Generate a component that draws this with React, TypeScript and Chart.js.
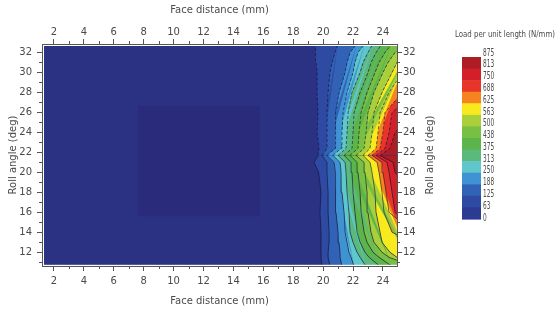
import { useEffect, useRef } from 'react';
import { Chart, registerables } from 'chart.js';

Chart.register(...registerables);

// ---- axis ranges ----
const X_MIN = 1.2;
const X_MAX = 24.94;
const Y_MIN = 10.63;
const Y_MAX = 32.85;
const BEYOND_EDGE = 26; // contour positions beyond the right edge of the plot

// ---- sample roll angles (deg) at which contour positions are read ----
const rollAngles = [10.6, 11.5, 12, 13, 14, 16, 18, 20, 21, 21.7, 22.4, 24, 26, 28, 30, 31, 32, 32.9];

// ---- contour levels (N/mm) and face-distance position of each contour (mm) ----
const contourLevels = [63, 125, 188, 250, 313, 375, 438, 500, 563, 625, 688, 750, 813];
const contour063 = [19.93, 19.86, 19.86, 19.86, 19.86, 19.79, 19.86, 19.7, 19.4, 19.66, 19.73, 19.6, 19.66, 19.6, 19.6, 19.52, 19.46, 19.52];
const contour125 = [20.46, 20.33, 20.33, 20.4, 20.4, 20.33, 20.33, 20.26, 20.26, 19.93, 20.26, 20.26, 20.26, 20.33, 20.46, 20.6, 20.8, 21.0];
const contour188 = [21.26, 21.13, 21.13, 21.06, 21.0, 20.86, 20.86, 20.8, 20.73, 20.26, 20.8, 20.86, 20.8, 21.07, 21.47, 21.6, 21.8, 22.27];
const contour250 = [22.07, 21.87, 21.73, 21.6, 21.47, 21.4, 21.26, 21.2, 21.13, 20.66, 21.2, 21.26, 21.33, 21.6, 22.0, 22.13, 22.33, 22.8];
const contour313 = [22.87, 22.47, 22.27, 22.0, 21.8, 21.73, 21.6, 21.53, 21.47, 21.0, 21.53, 21.6, 21.67, 21.93, 22.47, 22.67, 23.0, 23.34];
const contour375 = [23.81, 23.07, 22.8, 22.47, 22.27, 22.13, 22.0, 21.93, 21.87, 21.4, 21.93, 22.0, 22.07, 22.47, 23.0, 23.2, 23.54, 23.94];
const contour438 = [24.61, 23.74, 23.34, 22.94, 22.74, 22.54, 22.47, 22.33, 22.27, 21.8, 22.33, 22.4, 22.54, 22.94, 23.47, 23.74, 24.14, 24.61];
const contour500 = [26, 24.41, 23.94, 23.4, 23.2, 23.0, 22.94, 22.8, 22.74, 22.2, 22.74, 22.87, 23.0, 23.4, 24.0, 24.34, 24.81, 26];
const contour563 = [26, 24.94, 24.47, 23.94, 23.81, 23.54, 23.47, 23.27, 23.14, 22.67, 23.14, 23.27, 23.4, 23.94, 24.61, 24.94, 25.3, 26];
const contour625 = [26, 26, 26, 26, 24.61, 24.07, 23.94, 23.74, 23.61, 23.0, 23.54, 23.67, 23.81, 24.41, 25.3, 26, 26, 26];
const contour688 = [26, 26, 26, 26, 26, 24.41, 24.21, 24.0, 23.94, 23.27, 23.81, 24.0, 24.14, 25.3, 26, 26, 26, 26];
const contour750 = [26, 26, 26, 26, 26, 24.81, 24.61, 24.41, 24.27, 23.54, 24.14, 24.41, 24.61, 26, 26, 26, 26, 26];
const contour813 = [26, 26, 26, 26, 26, 26, 26, 24.81, 24.68, 23.81, 24.47, 24.81, 26, 26, 26, 26, 26, 26];
const contourLines = [contour063, contour125, contour188, contour250, contour313, contour375, contour438, contour500, contour563, contour625, contour688, contour750, contour813];

// band colour above each contour level
const bandColors = ['#2e4aa3', '#3262b5', '#3f93d3', '#5fc7cb', '#5cb97c', '#5bb54a', '#78c043', '#a9cf3a', '#f8ea1c', '#f5831f', '#e8352a', '#d21f2a', '#ae1c24'];
const plotBackground = '#2b3183';

// faint darker patch in the low-load region
const patchFaceDistance = [7.62, 15.78];
const patchRollAngle = [15.58, 26.7];

// ---- colour bar ----
const legendTitle = 'Load per unit length (N/mm)';
const legendLabels = ['875', '813', '750', '688', '625', '563', '500', '438', '375', '313', '250', '188', '125', '63', '0'];
const legendColors = ['#ae1c24', '#d21f2a', '#e8352a', '#f5831f', '#f8ea1c', '#a9cf3a', '#78c043', '#5bb54a', '#5cb97c', '#5fc7cb', '#3f93d3', '#3262b5', '#2e4aa3', '#2b3a92'];

const xTitle = 'Face distance (mm)';
const yTitle = 'Roll angle (deg)';

const FONT = 'DejaVu Sans';
const textColor = '#4a4a4a';
const axisColor = '#555555';

export default function App() {
  const ref = useRef<HTMLCanvasElement>(null);

  useEffect(() => {
    const canvas = ref.current;
    if (!canvas) return;

    const datasets: any[] = contourLines.map((xs, i) => ({
      label: String(contourLevels[i]),
      data: rollAngles.map((y, j) => ({ x: xs[j], y })),
      backgroundColor: bandColors[i],
      borderColor: 'rgba(18,18,45,0.75)',
      borderWidth: 0.8,
      fill: i < contourLines.length - 1 ? '+1' : { value: BEYOND_EDGE },
      pointRadius: 0,
      tension: 0,
      segment: {
        borderDash: (c: any) => (c.p0.parsed.y >= 21.7 ? [3, 2] : undefined),
      },
    }));
    datasets.push({
      label: 'patchL',
      data: patchRollAngle.map((y) => ({ x: patchFaceDistance[0], y })),
      backgroundColor: '#2a2c7b',
      borderWidth: 0,
      fill: '+1',
      pointRadius: 0,
    });
    datasets.push({
      label: 'patchR',
      data: patchRollAngle.map((y) => ({ x: patchFaceDistance[1], y })),
      borderWidth: 0,
      fill: false,
      pointRadius: 0,
    });

    const bgPlugin = {
      id: 'plotBg',
      beforeDraw(chart: any) {
        const { ctx, chartArea: a } = chart;
        ctx.save();
        ctx.fillStyle = plotBackground;
        ctx.fillRect(a.left, a.top, a.right - a.left, a.bottom - a.top);
        ctx.restore();
      },
      afterDatasetsDraw(chart: any) {
        const { ctx, chartArea: a } = chart;
        ctx.save();
        ctx.fillStyle = '#ffffff';
        ctx.fillRect(a.left, a.top, 2, a.bottom - a.top);
        ctx.fillRect(a.left, a.top, a.right - a.left, 2);
        ctx.fillRect(a.left, a.bottom - 1.2, a.right - a.left, 1.2);
        ctx.restore();
      },
    };

    const minorTicks = {
      id: 'minorTicks',
      afterDraw(chart: any) {
        const { ctx, chartArea: a, scales } = chart;
        ctx.save();
        ctx.strokeStyle = axisColor;
        ctx.lineWidth = 1;
        ctx.beginPath();
        for (let v = Math.ceil(X_MIN); v <= X_MAX; v++) {
          if (v % 2 === 0) continue;
          const px = Math.round(scales.x.getPixelForValue(v)) + 0.5;
          ctx.moveTo(px, a.bottom);
          ctx.lineTo(px, a.bottom + 3);
          ctx.moveTo(px, a.top);
          ctx.lineTo(px, a.top - 3);
        }
        for (let v = Math.ceil(Y_MIN); v <= Y_MAX; v++) {
          if (v % 2 === 0) continue;
          const py = Math.round(scales.y.getPixelForValue(v)) + 0.5;
          ctx.moveTo(a.left, py);
          ctx.lineTo(a.left - 3, py);
          ctx.moveTo(a.right, py);
          ctx.lineTo(a.right + 3, py);
        }
        ctx.stroke();
        ctx.restore();
      },
    };

    const extras = {
      id: 'extras',
      afterDraw(chart: any) {
        const { ctx, chartArea: a } = chart;
        ctx.save();
        // right axis title, reading bottom-to-top
        ctx.fillStyle = textColor;
        ctx.font = `10px "${FONT}"`;
        ctx.textAlign = 'center';
        ctx.textBaseline = 'middle';
        ctx.translate(430, (a.top + a.bottom) / 2);
        ctx.rotate(-Math.PI / 2);
        ctx.fillText(yTitle, 0, 0);
        ctx.restore();

        // colour bar
        ctx.save();
        const bx = 462, by = 57, bw = 19, bh = 162;
        const step = bh / legendColors.length;
        legendColors.forEach((c, i) => {
          ctx.fillStyle = c;
          ctx.fillRect(bx, by + i * step, bw, step + 0.6);
        });
        ctx.fillStyle = textColor;
        ctx.font = `10px "${FONT}"`;
        ctx.textAlign = 'left';
        ctx.textBaseline = 'middle';
        const lstep = (218 - 53) / (legendLabels.length - 1);
        legendLabels.forEach((t, i) => {
          ctx.save();
          ctx.translate(483, 53 + i * lstep);
          ctx.scale(0.58, 1);
          ctx.fillText(t, 0, 0);
          ctx.restore();
        });
        // legend title
        ctx.font = `8px "${FONT}"`;
        const w = ctx.measureText(legendTitle).width;
        ctx.save();
        ctx.translate(455, 35);
        ctx.scale(100 / w, 1);
        ctx.fillText(legendTitle, 0, 0);
        ctx.restore();
        ctx.restore();
      },
    };

    const tickFont = { family: FONT, size: 10 };
    const gridCfg = { display: true, drawOnChartArea: false, drawTicks: true, tickLength: 5, color: axisColor, tickColor: axisColor, lineWidth: 1 };
    const borderCfg = { display: true, color: axisColor, width: 1, z: 1 };

    const chart = new Chart(canvas, {
      type: 'line',
      data: { datasets },
      options: {
        responsive: false,
        animation: false,
        indexAxis: 'y',
        layout: { padding: { left: 0, right: 120, top: 0, bottom: 0 } },
        plugins: {
          legend: { display: false },
          tooltip: { enabled: false },
          filler: { drawTime: 'beforeDatasetsDraw', propagate: false },
        },
        scales: {
          x: {
            type: 'linear', position: 'bottom', min: X_MIN, max: X_MAX,
            afterFit: (s: any) => { s.height = 46; },
            ticks: { stepSize: 2, includeBounds: false, autoSkip: false, maxRotation: 0, minRotation: 0, padding: 4, color: textColor, font: tickFont },
            grid: gridCfg, border: borderCfg,
            title: { display: true, text: xTitle, color: textColor, font: tickFont, padding: { top: 0, bottom: 5 } },
          },
          xTop: {
            type: 'linear', axis: 'x', position: 'top', min: X_MIN, max: X_MAX,
            afterFit: (s: any) => { s.height = 44; },
            ticks: { stepSize: 2, includeBounds: false, autoSkip: false, maxRotation: 0, minRotation: 0, padding: 1, color: textColor, font: tickFont },
            grid: gridCfg, border: borderCfg,
            title: { display: true, text: xTitle, color: textColor, font: tickFont, padding: { top: 4, bottom: 0 } },
          },
          y: {
            type: 'linear', position: 'left', min: Y_MIN, max: Y_MAX,
            afterFit: (s: any) => { s.width = 42; },
            ticks: { stepSize: 2, includeBounds: false, autoSkip: false, padding: 5, color: textColor, font: tickFont },
            grid: gridCfg, border: borderCfg,
            title: { display: true, text: yTitle, color: textColor, font: tickFont, padding: { top: 7, bottom: 0 } },
          },
          yRight: {
            type: 'linear', axis: 'y', position: 'right', min: Y_MIN, max: Y_MAX,
            afterFit: (s: any) => { s.width = 40; },
            ticks: { stepSize: 2, includeBounds: false, autoSkip: false, padding: 1, color: textColor, font: tickFont },
            grid: gridCfg, border: borderCfg,
          },
        },
      } as any,
      plugins: [bgPlugin, minorTicks, extras],
    });

    return () => chart.destroy();
  }, []);

  return (
    <div style={{ position: 'fixed', left: 0, top: 0, width: 557, height: 312, background: '#ffffff' }}>
      <canvas ref={ref} width={557} height={312} style={{ display: 'block', width: 557, height: 312 }} />
    </div>
  );
}
